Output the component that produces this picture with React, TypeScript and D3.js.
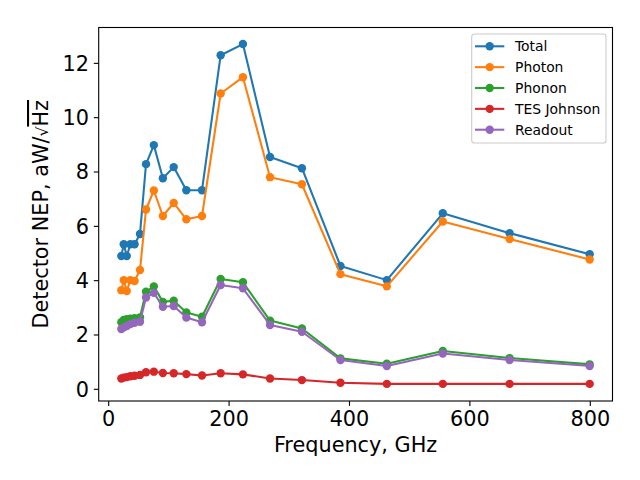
import React, { useEffect } from "react";
import * as d3 from "d3";

const freqs = [21, 25, 30, 36, 43, 52, 62, 75, 90, 108, 129, 155, 186, 223, 268, 321, 385, 462, 555, 666, 799];
const total = [4.91, 5.34, 4.91, 5.34, 5.34, 5.72, 8.29, 8.99, 7.77, 8.18, 7.33, 7.33, 12.3, 12.71, 8.55, 8.14, 4.54, 4.02, 6.48, 5.75, 4.97];
const photon = [3.65, 4.02, 3.62, 4.02, 3.99, 4.39, 6.62, 7.32, 6.38, 6.86, 6.26, 6.38, 10.89, 11.49, 7.81, 7.55, 4.24, 3.79, 6.18, 5.53, 4.78];
const phonon = [2.47, 2.55, 2.58, 2.6, 2.62, 2.65, 3.59, 3.79, 3.22, 3.26, 2.83, 2.67, 4.06, 3.94, 2.53, 2.24, 1.14, 0.94, 1.41, 1.15, 0.92];
const tesJohnson = [0.4, 0.43, 0.45, 0.48, 0.5, 0.53, 0.63, 0.65, 0.6, 0.59, 0.56, 0.51, 0.59, 0.55, 0.4, 0.34, 0.24, 0.2, 0.2, 0.2, 0.2];
const readout = [2.22, 2.28, 2.33, 2.4, 2.45, 2.49, 3.38, 3.55, 3.04, 3.07, 2.64, 2.47, 3.84, 3.72, 2.37, 2.12, 1.08, 0.86, 1.32, 1.08, 0.86];

const seriesNames = ["Total", "Photon", "Phonon", "TES Johnson", "Readout"];
const seriesValues = [total, photon, phonon, tesJohnson, readout];
const seriesColors = ["#1f77b4", "#ff7f0e", "#2ca02c", "#d62728", "#9467bd"];

const xTicks = [0, 200, 400, 600, 800];
const yTicks = [0, 2, 4, 6, 8, 10, 12];

const W = 640;
const H = 480;
const left = 98.7;
const right = 612.5;
const top = 27.5;
const bottom = 401;
const FONT = "DejaVu Sans, sans-serif";
const TICK_FS = 20.8;
const LEG_FS = 13.9;

export default function App() {
  useEffect(() => {
    document.body.style.margin = "0";
  }, []);

  const x = d3.scaleLinear().domain([-16.6, 836.9]).range([left, right]);
  const y = d3.scaleLinear().domain([-0.43, 13.32]).range([bottom, top]);

  const line = d3
    .line<[number, number]>()
    .x((d) => x(d[0]))
    .y((d) => y(d[1]));

  const legX0 = 471.7;
  const legY0 = 34;
  const legW = 606 - 471.7;
  const legH = 143 - 34;
  const rowY0 = 46.3;
  const rowStep = 20.85;

  return (
    <svg width={W} height={H} style={{ display: "block", background: "#fff" }} fontFamily={FONT}>
      <rect x={0} y={0} width={W} height={H} fill="#fff" />
      {seriesValues.map((vals, i) => {
        const pts: [number, number][] = freqs.map((f, j) => [f, vals[j]]);
        return (
          <g key={seriesNames[i]}>
            <path d={line(pts) || ""} fill="none" stroke={seriesColors[i]} strokeWidth={2.08} strokeLinejoin="round" strokeLinecap="square" />
            {pts.map((p, j) => (
              <circle key={j} cx={x(p[0])} cy={y(p[1])} r={4.2} fill={seriesColors[i]} />
            ))}
          </g>
        );
      })}
      {/* spines */}
      <rect x={left} y={top} width={right - left} height={bottom - top} fill="none" stroke="#000" strokeWidth={1.1} />
      {/* x ticks */}
      {xTicks.map((t) => (
        <g key={"x" + t}>
          <line x1={x(t)} x2={x(t)} y1={bottom} y2={bottom + 4.9} stroke="#000" strokeWidth={1.1} />
          <text x={x(t)} y={426.4} textAnchor="middle" fontSize={TICK_FS} fill="#000">
            {t}
          </text>
        </g>
      ))}
      {/* y ticks */}
      {yTicks.map((t) => (
        <g key={"y" + t}>
          <line x1={left - 4.9} x2={left} y1={y(t)} y2={y(t)} stroke="#000" strokeWidth={1.1} />
          <text x={left - 9.8} y={y(t)} dy="0.36em" textAnchor="end" fontSize={TICK_FS} fill="#000">
            {t}
          </text>
        </g>
      ))}
      <text x={(left + right) / 2} y={451.7} textAnchor="middle" fontSize={TICK_FS} fill="#000">
        Frequency, GHz
      </text>
      <text transform={`translate(48,${(top + bottom) / 2}) rotate(-90)`} textAnchor="middle" fontSize={TICK_FS} fill="#000">
        <tspan>Detector NEP, aW/</tspan>
        <tspan fontSize={TICK_FS * 0.75}>√</tspan>
        <tspan style={{ textDecoration: "overline" }}>Hz</tspan>
      </text>
      {/* legend */}
      <rect x={legX0} y={legY0} width={legW} height={legH} rx={2.8} ry={2.8} fill="#fff" fillOpacity={0.8} stroke="#cccccc" strokeWidth={1.1} />
      {seriesNames.map((name, i) => {
        const ry = rowY0 + i * rowStep;
        return (
          <g key={"leg" + name}>
            <line x1={475} x2={504.3} y1={ry} y2={ry} stroke={seriesColors[i]} strokeWidth={2.08} />
            <circle cx={489.7} cy={ry} r={4.2} fill={seriesColors[i]} />
            <text x={515} y={ry} dy="0.36em" fontSize={LEG_FS} fill="#000">
              {name}
            </text>
          </g>
        );
      })}
    </svg>
  );
}
